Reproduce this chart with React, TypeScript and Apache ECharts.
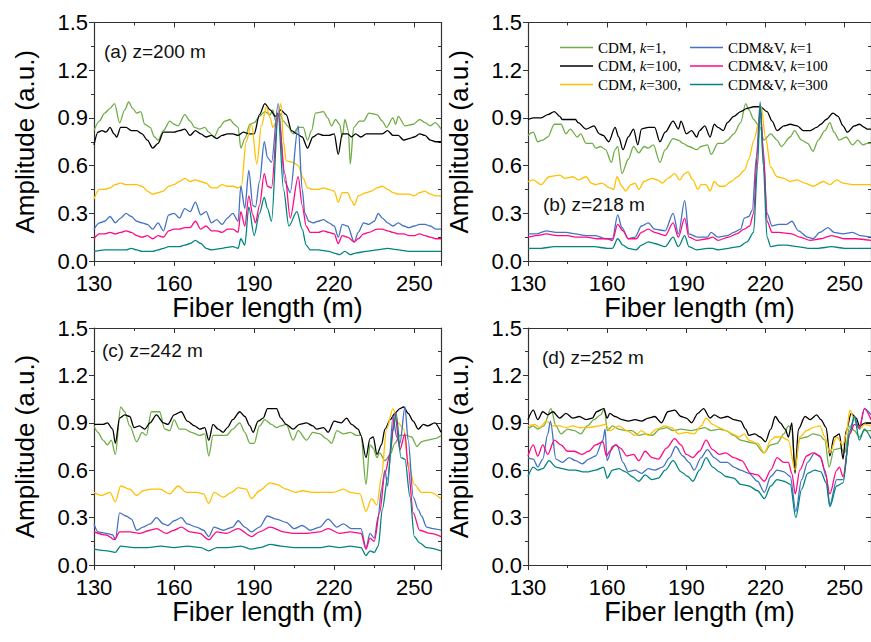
import React, { useEffect, useRef } from "react";
import * as echarts from "echarts";

type P = [number, number][];

// Series names (legend)
const names = ["CDM, k=1,", "CDM, k=100,", "CDM, k=300,", "CDM&V, k=1", "CDM&V, k=100", "CDM&V, k=300"];
const colors = ["#70AD47", "#000000", "#FFC000", "#4472C4", "#FF0A84", "#00857F"];
const panelLabels = ["(a) z=200 m", "(b) z=218 m", "(c) z=242 m", "(d) z=252 m"];

// ---------- Panel (a) z=200 m ----------
const aGreen: P = [[130,0.82],[132,0.88],[134,0.93],[136,0.96],[137.7,0.99],[139.6,0.87],[141.5,0.95],[143,1.0],[144.5,0.96],[146,0.93],[147.5,0.94],[149,0.86],[151,0.84],[152.7,0.78],[154,0.76],[156,0.82],[158.4,0.88],[160,0.86],[161.5,0.85],[164,0.92],[166,0.88],[167.7,0.84],[169.6,0.83],[171.5,0.84],[173,0.81],[175,0.78],[177,0.84],[179,0.88],[181,0.89],[182.5,0.86],[184,0.84],[185,0.71],[186.5,0.77],[188.4,0.86],[190,0.87],[192,0.91],[194,0.94],[196,0.92],[197,0.95],[198,0.88],[199.5,0.93],[201,0.88],[202.5,0.85],[204.6,0.8],[206.5,0.84],[208.4,0.84],[210,0.76],[211.5,0.82],[213,0.93],[216,0.94],[217.5,0.9],[219,0.85],[220.5,0.89],[222,0.86],[223,0.78],[224,0.89],[225.3,0.82],[226,0.61],[227.3,0.84],[229.5,0.88],[231,0.88],[233,0.93],[236,0.92],[238,0.88],[239.6,0.84],[242,0.9],[243,0.86],[244,0.91],[246.5,0.85],[249.6,0.86],[252,0.89],[254,0.87],[256,0.85],[257.8,0.87],[260,0.83]];
const aBlack: P = [[130,0.73],[131.5,0.81],[133,0.82],[134.5,0.81],[136,0.84],[137.5,0.8],[138.5,0.78],[140,0.84],[142,0.84],[144,0.82],[146,0.82],[148,0.8],[150,0.76],[152,0.71],[154,0.74],[156,0.81],[158,0.81],[160,0.81],[162,0.82],[164,0.83],[166,0.79],[168,0.82],[170,0.8],[172,0.78],[174,0.79],[176,0.77],[178,0.79],[180,0.8],[182,0.8],[184,0.79],[186,0.81],[188,0.8],[190,0.8],[192,0.92],[194,0.99],[196,0.95],[198,0.91],[200,0.95],[202,0.92],[204,0.82],[206,0.8],[208,0.78],[210,0.71],[212,0.78],[214,0.8],[216,0.79],[218,0.79],[220,0.8],[221.5,0.67],[223,0.8],[225,0.8],[226.5,0.78],[228,0.8],[230,0.78],[232,0.8],[234,0.8],[236,0.8],[238,0.8],[240,0.82],[242,0.79],[244,0.79],[246,0.76],[248,0.77],[250,0.78],[252,0.8],[254,0.79],[256,0.76],[258,0.75],[260,0.75]];
const aYellow: P = [[130,0.39],[132,0.45],[134,0.45],[136,0.46],[138,0.48],[140,0.49],[142,0.48],[144,0.48],[146,0.48],[148,0.47],[150,0.44],[152,0.42],[154,0.43],[156,0.44],[158,0.47],[160,0.48],[162,0.5],[164,0.52],[166,0.5],[168,0.51],[170,0.5],[172,0.49],[174,0.46],[176,0.46],[178,0.48],[180,0.47],[182,0.47],[184,0.46],[185.2,0.47],[187,0.75],[189,0.86],[191,0.61],[192.7,0.85],[194.6,0.97],[196,0.9],[197,0.84],[198.4,0.88],[200,0.99],[201,0.75],[202,0.63],[204.6,0.62],[206.5,0.6],[208.4,0.52],[210,0.46],[212,0.45],[214,0.45],[216,0.46],[218,0.45],[220,0.44],[221.5,0.37],[223,0.43],[225,0.43],[226.5,0.38],[227.5,0.35],[229,0.41],[232,0.43],[234,0.44],[236,0.46],[238,0.47],[240,0.45],[242,0.43],[244,0.42],[246,0.42],[248,0.42],[250,0.41],[252,0.43],[254,0.44],[256,0.42],[258,0.41],[260,0.41]];
const aBlue: P = [[130,0.2],[132,0.24],[134,0.25],[136,0.28],[138,0.24],[140,0.27],[142,0.3],[144,0.28],[146,0.25],[148,0.24],[150,0.23],[152,0.2],[154,0.24],[156,0.19],[158,0.29],[160,0.3],[162,0.27],[164,0.33],[166,0.31],[168,0.37],[170,0.29],[172,0.31],[174,0.24],[176,0.26],[178,0.23],[180,0.27],[182,0.3],[184,0.25],[185,0.47],[186.5,0.33],[188,0.57],[189.5,0.35],[190.5,0.34],[192,0.5],[193.8,0.75],[195,0.65],[196.5,0.62],[199,0.99],[201.5,0.5],[203.5,0.43],[206.5,0.85],[208,0.45],[209,0.3],[210.5,0.25],[212,0.24],[214,0.25],[216,0.26],[218,0.24],[220,0.22],[221.5,0.15],[223,0.23],[225,0.22],[227.5,0.12],[229,0.18],[231,0.24],[233,0.23],[235,0.25],[236.5,0.3],[238,0.27],[240,0.24],[242,0.22],[244,0.24],[246,0.22],[248,0.21],[250,0.22],[252,0.23],[254,0.23],[256,0.22],[258,0.2],[260,0.2]];
const aMagenta: P = [[130,0.14],[132,0.17],[134,0.17],[136,0.18],[138,0.17],[140,0.18],[142,0.19],[144,0.18],[146,0.16],[148,0.15],[150,0.16],[152,0.14],[154,0.16],[156,0.15],[158,0.19],[160,0.2],[162,0.2],[164,0.21],[166,0.21],[168,0.25],[170,0.2],[172,0.22],[174,0.19],[176,0.19],[178,0.18],[180,0.2],[182,0.2],[184,0.18],[185,0.31],[186.5,0.22],[188,0.41],[189.5,0.29],[190.5,0.24],[192,0.35],[193.8,0.55],[195,0.47],[196.5,0.46],[199,0.93],[201.5,0.55],[203.5,0.27],[206.5,0.53],[208,0.35],[209.5,0.22],[211,0.18],[214,0.18],[216,0.19],[218,0.18],[220,0.17],[221.5,0.11],[223,0.16],[225,0.15],[227.5,0.12],[229,0.14],[231,0.17],[233,0.18],[236,0.2],[238,0.2],[240,0.19],[242,0.18],[244,0.17],[246,0.17],[248,0.16],[250,0.16],[252,0.17],[254,0.16],[256,0.15],[258,0.14],[260,0.14]];
const aTeal: P = [[130,0.06],[134,0.07],[138,0.07],[142,0.07],[144,0.08],[146,0.07],[148,0.06],[152,0.06],[154,0.07],[156,0.08],[158,0.09],[162,0.09],[164,0.1],[166,0.11],[168,0.13],[170,0.11],[172,0.08],[174,0.07],[178,0.08],[182,0.09],[184,0.08],[185,0.14],[186.5,0.1],[188,0.34],[190,0.16],[192,0.3],[193.8,0.4],[195,0.33],[196.5,0.25],[199,0.92],[201,0.45],[203,0.22],[206,0.31],[208,0.2],[209.5,0.1],[211,0.07],[214,0.07],[218,0.06],[220,0.05],[222,0.04],[224,0.06],[226,0.04],[228,0.05],[232,0.06],[236,0.07],[240,0.08],[244,0.07],[248,0.06],[252,0.06],[256,0.06],[260,0.06]];

// ---------- Panel (b) z=218 m ----------
const bGreen: P = [[130,0.79],[132,0.81],[133.7,0.75],[135.6,0.76],[137.5,0.78],[140,0.86],[142.5,0.86],[144.4,0.8],[146,0.83],[148.7,0.78],[150,0.8],[152,0.74],[154.4,0.74],[155.6,0.71],[157.5,0.72],[159.4,0.7],[161.6,0.62],[163,0.7],[164,0.72],[165.6,0.55],[168,0.64],[170,0.72],[172,0.68],[174,0.72],[175.6,0.71],[177.5,0.73],[180,0.62],[182,0.7],[185,0.77],[187,0.76],[188.7,0.74],[191,0.72],[194,0.7],[195.6,0.72],[198,0.73],[199.4,0.67],[202,0.74],[204,0.74],[205.6,0.76],[208,0.8],[210.6,0.87],[212.5,0.99],[213.7,0.95],[215.6,0.89],[217,0.86],[218,0.84],[219.4,0.76],[222,0.8],[224.4,0.76],[226,0.72],[229.4,0.78],[231,0.82],[233.7,0.76],[236,0.74],[238,0.69],[240,0.76],[242.5,0.82],[244.4,0.87],[246,0.81],[248,0.76],[250.6,0.78],[253,0.73],[255,0.76],[257,0.73],[258.5,0.74],[260,0.74]];
const bBlack: P = [[130,0.89],[132,0.9],[135,0.9],[137.5,0.92],[140,0.94],[142,0.91],[143,0.89],[146,0.89],[148,0.89],[149,0.87],[152,0.83],[155,0.85],[157,0.8],[158.5,0.79],[160.6,0.75],[163,0.84],[164.4,0.78],[166,0.7],[168,0.78],[170,0.83],[171.6,0.73],[173,0.83],[175.6,0.84],[178,0.84],[180,0.75],[182,0.81],[185,0.88],[187,0.83],[188,0.88],[190,0.8],[192,0.82],[194,0.78],[195,0.82],[197,0.85],[199,0.78],[200.6,0.86],[202,0.84],[204,0.82],[205.6,0.87],[208,0.91],[210.6,0.94],[213,0.96],[215.6,0.97],[218,0.97],[220.6,0.94],[222.5,0.88],[224.4,0.82],[227,0.85],[229.4,0.86],[232,0.85],[234.4,0.82],[237,0.82],[239.4,0.84],[241,0.86],[243,0.89],[245.6,0.93],[247.5,0.91],[249.4,0.85],[251,0.81],[253.7,0.85],[255.6,0.86],[257.5,0.84],[258.5,0.83],[260,0.83]];
const bYellow: P = [[130,0.5],[132,0.51],[135,0.48],[138,0.53],[142,0.54],[144,0.52],[147,0.53],[149,0.51],[152,0.53],[154,0.49],[155.6,0.48],[158,0.49],[161,0.46],[162.5,0.45],[163.7,0.53],[165.6,0.47],[167,0.44],[169,0.48],[170.6,0.49],[172,0.45],[174,0.5],[177,0.52],[179,0.51],[181,0.49],[183,0.52],[185.6,0.55],[187.5,0.51],[189.4,0.55],[190.6,0.56],[192.5,0.51],[194.4,0.45],[195.6,0.48],[197.5,0.48],[199,0.44],[200.6,0.5],[202.5,0.47],[204.4,0.47],[207,0.5],[209.4,0.53],[212,0.57],[213.7,0.64],[215.6,0.76],[217.5,0.87],[218.4,0.97],[220,0.78],[222,0.59],[224.4,0.53],[227,0.52],[229.4,0.5],[232,0.51],[235,0.49],[238,0.47],[242,0.5],[244.4,0.48],[247,0.51],[249.4,0.49],[253,0.48],[256,0.48],[260,0.48]];
const bBlue: P = [[130,0.17],[133,0.17],[137,0.19],[140.6,0.18],[144.4,0.18],[148,0.17],[152,0.16],[155.6,0.16],[159.4,0.14],[162,0.14],[164,0.29],[165.6,0.21],[168,0.14],[170.6,0.15],[173,0.22],[175.6,0.24],[178,0.2],[182,0.19],[185,0.3],[187,0.17],[189.4,0.38],[191,0.17],[194.4,0.15],[198,0.15],[199.4,0.18],[202,0.15],[205.6,0.16],[208,0.18],[210.6,0.2],[212,0.27],[213.7,0.28],[215,0.32],[216.6,0.66],[218,1.0],[219.2,0.66],[220.6,0.3],[222.5,0.22],[225,0.23],[228,0.23],[230,0.25],[232.5,0.19],[236,0.15],[238,0.14],[240.6,0.18],[243.7,0.21],[246,0.18],[249.4,0.17],[253,0.18],[256,0.16],[260,0.15]];
const bMagenta: P = [[130,0.15],[133,0.16],[137,0.17],[141,0.16],[145,0.16],[148,0.15],[152,0.15],[156,0.14],[160,0.14],[162,0.13],[164,0.23],[166,0.19],[168,0.14],[171,0.14],[173,0.18],[175.6,0.2],[178,0.18],[182,0.16],[185,0.24],[187,0.15],[189.4,0.27],[191,0.15],[194,0.13],[198,0.14],[200,0.15],[202,0.13],[206,0.15],[209,0.17],[212,0.2],[214,0.22],[215.5,0.3],[217,0.7],[218,0.96],[219.2,0.7],[220.6,0.25],[222.5,0.18],[225,0.18],[230,0.17],[233,0.15],[237,0.13],[241,0.14],[245,0.16],[250,0.14],[254,0.14],[260,0.13]];
const bTeal: P = [[130,0.08],[135,0.08],[140,0.09],[145,0.09],[150,0.09],[155,0.09],[160,0.08],[162,0.08],[164,0.14],[166,0.1],[168,0.08],[171,0.07],[173,0.1],[175.6,0.12],[178,0.11],[182,0.09],[185,0.15],[187,0.09],[189.4,0.16],[191,0.09],[194,0.07],[198,0.08],[200,0.08],[202,0.07],[206,0.08],[210,0.09],[213,0.12],[215.5,0.18],[217,0.6],[218,0.98],[219.2,0.6],[220.6,0.15],[222,0.09],[225,0.1],[228,0.1],[232,0.09],[236,0.08],[240,0.08],[245,0.09],[250,0.08],[255,0.08],[260,0.08]];

// ---------- Panel (c) z=242 m ----------
const cGreen: P = [[130,0.88],[131.5,0.84],[133.4,0.79],[135,0.76],[136.5,0.79],[138,0.7],[140,1.0],[141.5,0.97],[143.4,0.88],[146,0.78],[148,0.84],[149.6,0.82],[151.5,0.97],[154.6,0.97],[156.5,0.86],[158.4,0.85],[160,0.92],[162,0.86],[164,0.86],[166.5,0.84],[169.6,0.82],[171.5,0.83],[173,0.69],[174.6,0.82],[177,0.82],[179.6,0.82],[182,0.86],[184.6,0.9],[186.5,0.84],[188.4,0.77],[190,0.77],[192,0.88],[194,0.92],[196.5,0.89],[198.4,0.87],[200,0.88],[202,0.89],[204.6,0.79],[206.5,0.85],[209.6,0.79],[212,0.84],[214.6,0.83],[217,0.8],[219,0.77],[221,0.85],[223.4,0.83],[226,0.84],[228.4,0.82],[230,0.82],[231.9,0.51],[233.4,0.76],[234.6,0.74],[236,0.68],[237,0.71],[239,0.66],[241,0.7],[242.7,0.77],[244.6,0.82],[247,0.82],[249,0.81],[251,0.75],[252.7,0.78],[255,0.79],[257.7,0.8],[260,0.82]];
const cBlack: P = [[130,0.89],[133.4,0.89],[135,0.9],[137,0.86],[138,0.77],[139.6,0.93],[141.5,0.95],[143.4,0.94],[145,0.87],[147,0.88],[149,0.86],[151,0.9],[153.4,0.95],[156,0.9],[157.7,0.89],[160,0.95],[162.7,0.97],[165,0.91],[167.7,0.88],[169.6,0.86],[171.5,0.87],[173,0.79],[174.6,0.89],[176.5,0.86],[178.4,0.84],[180,0.87],[182,0.92],[184.6,0.97],[186.5,0.94],[188.4,0.88],[189.6,0.84],[191.5,0.91],[193.4,0.93],[195,0.99],[198.4,0.99],[200,0.93],[202,0.89],[204.6,0.86],[207,0.89],[209.6,0.9],[212,0.88],[213.4,0.86],[216,0.87],[217.7,0.84],[220,0.91],[222.7,0.9],[224.6,0.93],[226.5,0.89],[229,0.86],[230,0.82],[231.9,0.68],[233.4,0.8],[234.6,0.81],[236,0.7],[237.7,0.76],[239,0.86],[241,0.92],[242.7,0.96],[244.6,0.99],[246,1.0],[247.7,0.96],[249.6,0.91],[251.5,0.86],[253.4,0.89],[255,0.88],[257.7,0.9],[260,0.84]];
const cYellow: P = [[130,0.46],[132.7,0.44],[136,0.46],[138,0.4],[140,0.5],[143.4,0.48],[146,0.44],[148.4,0.47],[151.5,0.48],[154.6,0.48],[158.4,0.45],[161.5,0.5],[164.6,0.46],[168.4,0.46],[171,0.45],[173,0.39],[175,0.46],[178.4,0.43],[181.5,0.46],[184,0.49],[187,0.48],[189,0.42],[192,0.47],[196,0.52],[198.4,0.51],[202,0.48],[205.6,0.46],[208,0.47],[212,0.46],[216,0.46],[219.6,0.46],[223.4,0.48],[226,0.46],[229.6,0.45],[231.9,0.34],[234,0.42],[236,0.38],[237.7,0.56],[239.6,0.86],[242,0.99],[244,0.9],[246,0.86],[247.7,0.65],[250,0.51],[252.7,0.46],[256,0.46],[260,0.42]];
const cBlue: P = [[130,0.26],[131.5,0.21],[134.6,0.2],[137,0.19],[138,0.16],[139.6,0.33],[142,0.31],[144,0.29],[146,0.22],[148.4,0.24],[151,0.26],[153.4,0.3],[156,0.26],[157.7,0.25],[160,0.28],[162.7,0.3],[165,0.26],[168.4,0.24],[171,0.22],[173,0.18],[175,0.24],[178.4,0.22],[182,0.24],[184,0.28],[186.5,0.24],[189,0.21],[192,0.24],[195,0.31],[198.4,0.29],[202,0.27],[205,0.23],[208,0.25],[211,0.22],[214.6,0.24],[217.7,0.29],[221,0.24],[223.4,0.26],[226.5,0.23],[230,0.23],[231.9,0.11],[233.4,0.2],[235,0.17],[236.5,0.31],[237.7,0.48],[239,0.6],[240,0.5],[242,0.94],[243.4,0.81],[244.6,0.77],[246.5,1.0],[247.7,0.79],[249.6,0.43],[251.5,0.35],[252.7,0.31],[254.6,0.24],[257,0.23],[260,0.22]];
const cMagenta: P = [[130,0.21],[134.6,0.19],[137.7,0.16],[139.6,0.21],[143.4,0.21],[147,0.2],[151,0.22],[153.4,0.23],[157,0.2],[160,0.22],[162.7,0.24],[166,0.21],[169.6,0.2],[173,0.16],[176,0.21],[179.6,0.2],[184,0.23],[189,0.18],[192,0.21],[196,0.24],[201,0.21],[204.6,0.2],[209.6,0.2],[214.6,0.21],[217.7,0.23],[222,0.2],[226,0.21],[230,0.2],[231.9,0.1],[233.4,0.17],[235,0.15],[237,0.33],[239,0.58],[241,0.71],[242.7,0.96],[244.6,0.73],[246.5,0.83],[247.7,0.62],[249.6,0.33],[252,0.22],[256,0.2],[260,0.18]];
const cTeal: P = [[130,0.1],[135,0.09],[138,0.08],[140,0.12],[145,0.11],[150,0.11],[155,0.12],[160,0.11],[165,0.12],[170,0.11],[173,0.09],[176,0.11],[180,0.11],[185,0.12],[189,0.1],[192,0.11],[196,0.13],[200,0.12],[205,0.11],[210,0.11],[215,0.11],[218,0.12],[222,0.11],[226,0.12],[230,0.11],[231.9,0.06],[233.4,0.09],[235,0.08],[236.5,0.12],[238,0.35],[240,0.55],[242,0.85],[243.2,0.96],[245,0.68],[246.5,0.67],[248.4,0.43],[250,0.18],[252,0.14],[254.6,0.11],[260,0.09]];

// ---------- Panel (d) z=252 m ----------
const dGreen: P = [[130,0.86],[132,0.88],[133.7,0.86],[136,0.88],[138.7,0.99],[140.6,0.88],[142.5,0.83],[145,0.86],[147.5,0.85],[150,0.83],[152.5,0.88],[155,0.92],[157.5,0.95],[159,0.99],[160,0.85],[162,0.88],[164.4,0.86],[167,0.85],[169.4,0.85],[172,0.82],[174.4,0.83],[177,0.82],[180,0.86],[182.5,0.87],[185,0.85],[188,0.86],[192,0.85],[194.4,0.86],[197,0.87],[199.4,0.85],[202.5,0.86],[205,0.85],[208,0.82],[210.6,0.79],[213,0.78],[216,0.77],[219.4,0.71],[222,0.76],[224.4,0.77],[227,0.83],[228.7,0.88],[230,0.86],[231.2,0.62],[233,0.8],[235.6,0.81],[238,0.83],[240.6,0.82],[242.5,0.79],[244.1,0.62],[246,0.73],[248.7,0.74],[250,0.71],[252,0.88],[253.7,0.85],[255.6,0.81],[257.5,0.85],[260,0.85]];
const dBlack: P = [[130,0.92],[132,0.98],[133.7,0.92],[135.6,0.97],[137.5,0.95],[139.4,0.97],[142,0.93],[144.4,0.96],[147,0.93],[149.4,0.94],[152,0.92],[154.4,0.93],[156,0.97],[158.7,0.99],[160,0.93],[161,0.96],[163,0.94],[165.6,0.92],[168,0.91],[170.6,0.92],[173,0.91],[175.6,0.93],[178,0.94],[180.6,0.9],[183,0.97],[185.6,0.98],[188,0.94],[190,0.93],[192,0.9],[194.4,0.96],[196.5,0.99],[199,0.93],[200.6,0.95],[203,0.93],[205.6,0.94],[208,0.92],[210.6,0.91],[212.5,0.86],[213.7,0.82],[216,0.83],[218,0.81],[220,0.78],[222,0.86],[223.7,0.94],[225.6,0.9],[227.5,0.86],[228.7,0.81],[230,0.9],[231.2,0.58],[232.5,0.86],[235,0.94],[236.9,0.92],[239.4,0.95],[241,0.92],[243,0.87],[244.4,0.69],[246,0.81],[248,0.83],[249.4,0.67],[250.6,0.85],[252.5,0.96],[254.4,0.93],[255.6,0.88],[258,0.9],[260,0.9]];
const dYellow: P = [[130,0.88],[132.5,0.89],[134.4,0.87],[137,0.91],[139.4,0.88],[142,0.88],[144.4,0.87],[147,0.88],[149.4,0.87],[153,0.87],[157,0.88],[159.4,0.89],[161,0.85],[164.4,0.88],[167.5,0.85],[170.6,0.82],[173,0.85],[175.6,0.82],[178.7,0.86],[182,0.88],[184.4,0.87],[187,0.83],[190,0.84],[193,0.83],[195.6,0.88],[197.5,0.93],[200,0.89],[202.5,0.87],[205,0.85],[207.5,0.83],[210,0.81],[212,0.83],[213.7,0.79],[217,0.77],[219.6,0.71],[222,0.79],[223.7,0.81],[226,0.81],[228.7,0.79],[231.2,0.6],[233,0.81],[235.6,0.85],[238,0.87],[240.6,0.88],[242.5,0.81],[244.4,0.71],[247,0.81],[249.4,0.76],[250.6,0.83],[252,0.98],[253.7,0.92],[255.6,0.86],[257.5,0.89],[260,0.88]];
const dBlue: P = [[130,0.68],[132,0.67],[133.7,0.62],[135.6,0.67],[137.5,0.83],[138.5,0.91],[140.6,0.67],[143,0.65],[145.6,0.68],[148,0.66],[150.6,0.64],[153,0.67],[155.6,0.69],[158.4,0.79],[159.2,0.86],[160,0.66],[162,0.75],[163.7,0.76],[166,0.65],[168,0.59],[170.6,0.6],[173,0.58],[175.6,0.61],[178,0.6],[181,0.62],[183.7,0.68],[186,0.75],[188.7,0.69],[191,0.65],[193,0.6],[195.6,0.68],[198,0.73],[200.6,0.68],[203,0.65],[205.6,0.65],[208,0.62],[210.6,0.6],[213.7,0.58],[217,0.53],[219.6,0.46],[222,0.56],[224.4,0.6],[227,0.59],[229.4,0.56],[231.5,0.34],[233.7,0.54],[236,0.65],[238.7,0.71],[241,0.68],[243,0.56],[244.4,0.38],[247,0.54],[249.4,0.54],[252,0.83],[253.7,0.94],[255.6,0.86],[257.5,0.99],[260,0.95]];
const dMagenta: P = [[130,0.69],[132,0.76],[133.7,0.69],[135.6,0.76],[137.5,0.7],[140,0.79],[142.5,0.76],[145,0.72],[147.5,0.72],[150.6,0.7],[153,0.72],[155.6,0.76],[158.4,0.78],[159.7,0.69],[161,0.72],[163,0.76],[165,0.74],[167.5,0.69],[170,0.7],[172,0.66],[174.4,0.72],[177,0.68],[179.4,0.67],[182.5,0.74],[185.6,0.8],[188,0.76],[190,0.7],[192.5,0.68],[195,0.72],[197.5,0.79],[200,0.73],[202.5,0.7],[205,0.71],[208,0.68],[211,0.66],[214.4,0.58],[217,0.57],[219.6,0.53],[222,0.6],[224.4,0.68],[227,0.65],[228.7,0.65],[230,0.58],[231.3,0.45],[233,0.6],[235.6,0.69],[238,0.71],[240.6,0.69],[242.5,0.6],[244.4,0.45],[247,0.6],[248,0.62],[249.4,0.56],[252,0.83],[253.7,0.89],[255.6,0.87],[257.5,0.99],[260,0.92]];
const dTeal: P = [[130,0.56],[132,0.62],[133.7,0.6],[135.6,0.61],[138,0.66],[140.6,0.62],[143,0.61],[145.6,0.6],[148,0.6],[150.6,0.59],[153,0.59],[155.6,0.6],[158.7,0.62],[160,0.55],[162,0.6],[164.4,0.61],[167,0.59],[169.4,0.56],[172,0.53],[174.4,0.57],[177,0.54],[179.4,0.55],[182,0.6],[185,0.66],[188,0.59],[190.6,0.56],[192.5,0.53],[195,0.6],[197.5,0.68],[200,0.62],[202.5,0.59],[205,0.56],[208,0.55],[210.6,0.51],[213.7,0.5],[217,0.47],[219.6,0.42],[222,0.5],[224.4,0.54],[227,0.53],[229.4,0.51],[231.5,0.3],[233.7,0.48],[236,0.58],[238.7,0.6],[241,0.59],[243,0.52],[244.4,0.37],[247,0.5],[249.4,0.52],[252,0.85],[253.7,0.94],[255.6,0.79],[257.5,0.86],[260,0.8]];

const panels: P[][] = [
  [aGreen, aBlack, aYellow, aBlue, aMagenta, aTeal],
  [bGreen, bBlack, bYellow, bBlue, bMagenta, bTeal],
  [cGreen, cBlack, cYellow, cBlue, cMagenta, cTeal],
  [dGreen, dBlack, dYellow, dBlue, dMagenta, dTeal],
];

const SANS = "'Liberation Sans', Arial, sans-serif";
const SERIF = "'Liberation Serif', 'Times New Roman', serif";
const AXC = "#333";

const grids = [
  { left: 94, top: 22.5, width: 347, height: 238.5 },
  { left: 528, top: 22.5, width: 347, height: 238.5 },
  { left: 94, top: 328, width: 347, height: 237 },
  { left: 528, top: 328, width: 347, height: 237 },
];
const labelPos = [
  [104, 42],
  [543, 195],
  [102, 341],
  [542, 348],
];
const xNameGap = [31, 31, 30, 30];

export default function App() {
  const ref = useRef<HTMLDivElement>(null);
  useEffect(() => {
    if (!ref.current) return;
    const chart = echarts.init(ref.current, undefined, { renderer: "svg" });
    const xAxes: any[] = [];
    const yAxes: any[] = [];
    const series: any[] = [];
    grids.forEach((g, i) => {
      xAxes.push({
        gridIndex: i, type: "value", min: 130, max: 260, interval: 30, position: "bottom",
        name: "Fiber length (m)", nameLocation: "middle", nameGap: xNameGap[i],
        nameTextStyle: { fontFamily: SANS, fontSize: 27, color: "#000", lineHeight: 27 },
        axisLine: { show: true, lineStyle: { color: AXC, width: 1.2 } },
        axisTick: { show: true, inside: false, length: 5, lineStyle: { color: AXC } },
        minorTick: { show: true, splitNumber: 2, length: 3, lineStyle: { color: AXC } },
        axisLabel: { fontFamily: SANS, fontSize: 22, lineHeight: 22, color: "#000", margin: 11, showMaxLabel: false },
        splitLine: { show: false },
      });
      xAxes.push({
        gridIndex: i, type: "value", min: 130, max: 260, interval: 30, position: "top",
        axisLine: { show: true, onZero: false, lineStyle: { color: AXC, width: 1.2 } },
        axisTick: { show: true, inside: true, length: 5, lineStyle: { color: AXC } },
        minorTick: { show: true, splitNumber: 2, length: 3, lineStyle: { color: AXC } },
        axisLabel: { show: false },
        splitLine: { show: false },
      });
      yAxes.push({
        gridIndex: i, type: "value", min: 0, max: 1.5, interval: 0.3, position: "left",
        name: "Amplitude (a.u.)", nameLocation: "middle", nameGap: 56,
        nameTextStyle: { fontFamily: SANS, fontSize: 26, color: "#000", lineHeight: 26 },
        axisLine: { show: true, onZero: false, lineStyle: { color: AXC, width: 1.2 } },
        axisTick: { show: true, inside: false, length: 5, lineStyle: { color: AXC } },
        minorTick: { show: true, splitNumber: 2, length: 3, lineStyle: { color: AXC } },
        axisLabel: { fontFamily: SANS, fontSize: 22, lineHeight: 20, color: "#000", margin: 6, formatter: (v: number) => v.toFixed(1) },
        splitLine: { show: false },
      });
      yAxes.push({
        gridIndex: i, type: "value", min: 0, max: 1.5, interval: 0.3, position: "right",
        axisLine: { show: true, onZero: false, lineStyle: { color: AXC, width: 1.2 } },
        axisTick: { show: true, inside: true, length: 5, lineStyle: { color: AXC } },
        minorTick: { show: true, splitNumber: 2, length: 3, lineStyle: { color: AXC } },
        axisLabel: { show: false },
        splitLine: { show: false },
      });
      panels[i].forEach((data, k) => {
        series.push({
          type: "line", name: names[k], xAxisIndex: i * 2, yAxisIndex: i * 2,
          data, symbol: "none", smooth: 0.3, smoothMonotone: "x",
          lineStyle: { color: colors[k], width: 1.3 }, itemStyle: { color: colors[k] },
          z: 2 + k,
        });
      });
    });

    const legendText = {
      fontFamily: SERIF, fontSize: 15, color: "#000",
      rich: { i: { fontFamily: SERIF, fontSize: 15, fontStyle: "italic", color: "#000" }, n: { fontFamily: SERIF, fontSize: 15, color: "#000" } },
    };
    const fmt = (n: string) => "{n|" + n.replace("k=", "}{i|k}{n|=") + "}";
    const legendBase = {
      orient: "vertical", top: 40, padding: 0, icon: "rect",
      itemWidth: 33, itemHeight: 1.6, itemGap: 3.5, selectedMode: false,
      formatter: fmt, textStyle: legendText,
    };

    chart.setOption({
      animation: false,
      backgroundColor: "#fff",
      grid: grids.map((g) => ({ ...g, containLabel: false })),
      xAxis: xAxes,
      yAxis: yAxes,
      series,
      legend: [
        { ...legendBase, data: names.slice(0, 3), left: 560 },
        { ...legendBase, data: names.slice(3), left: 690 },
      ],
      graphic: panelLabels.map((t, i) => ({
        type: "text", left: labelPos[i][0], top: labelPos[i][1], z: 100,
        style: { text: t, fontFamily: SANS, fontSize: 19, fill: "#111" },
      })),
    });
    return () => chart.dispose();
  }, []);
  return <div ref={ref} style={{ position: "fixed", left: 0, top: 0, width: 871, height: 642, background: "#fff" }} />;
}
